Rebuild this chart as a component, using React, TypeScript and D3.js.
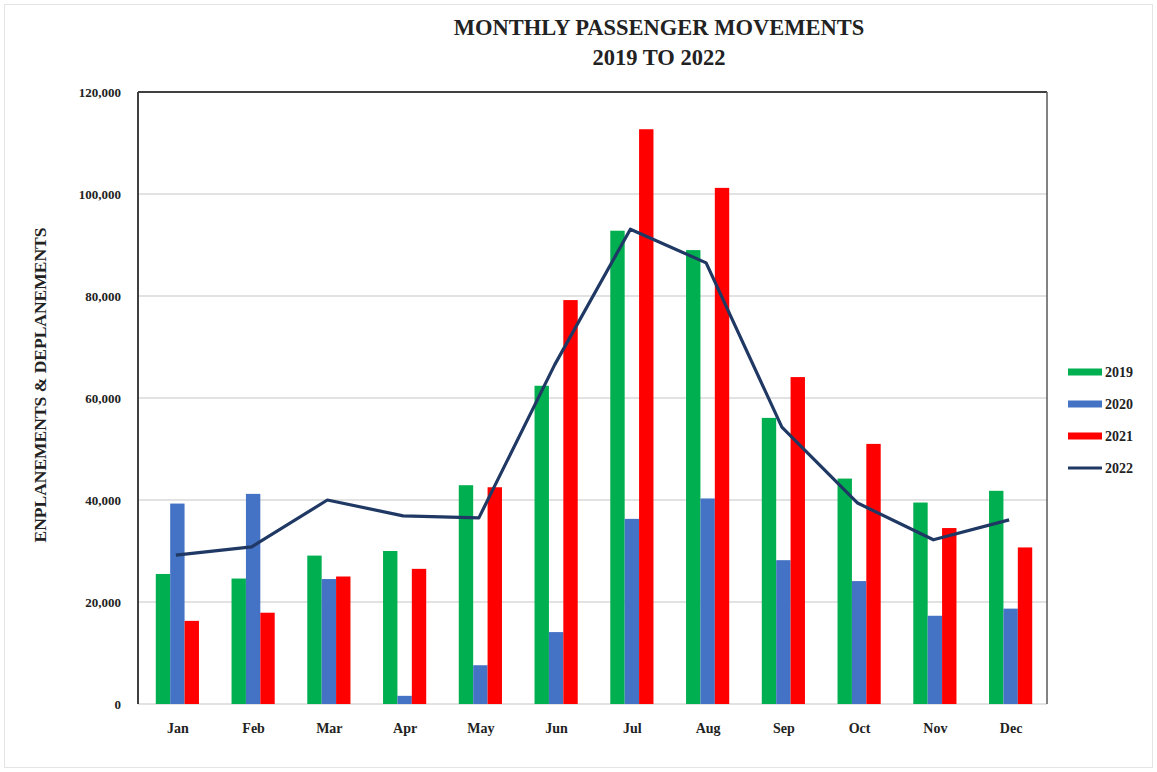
import { useEffect, useRef } from "react";
import * as d3 from "d3";

const months = ["Jan", "Feb", "Mar", "Apr", "May", "Jun", "Jul", "Aug", "Sep", "Oct", "Nov", "Dec"];
const seriesNames = ["2019", "2020", "2021"];
const values2019 = [25500, 24600, 29100, 30000, 42900, 62400, 92800, 89000, 56100, 44200, 39500, 41800];
const values2020 = [39300, 41200, 24500, 1600, 7600, 14100, 36300, 40300, 28200, 24100, 17300, 18700];
const values2021 = [16300, 17900, 25000, 26500, 42500, 79200, 112700, 101200, 64100, 51000, 34500, 30700];
const values2022 = [29200, 30800, 40000, 36900, 36500, 66500, 93100, 86500, 54300, 39400, 32200, 36100];
const yTicks = [0, 20000, 40000, 60000, 80000, 100000, 120000];
const colors = ["#00b050", "#4472c4", "#ff0000"];
const lineColor = "#1f3864";

const W = 1157;
const H = 772;
const FONT = "'Liberation Serif', 'DejaVu Serif', serif";

const App = () => {
    const chartRef = useRef<SVGSVGElement>(null);

    useEffect(() => {
        const svg = d3.select(chartRef.current);
        svg.selectAll("*").remove();

        const margin = { top: 92, right: 110, bottom: 68, left: 138 };
        const innerW = W - margin.left - margin.right;

        // outer chart frame
        svg.append("rect")
            .attr("x", 4.5).attr("y", 4.5)
            .attr("width", W - 9).attr("height", H - 9)
            .attr("fill", "#fff").attr("stroke", "#e4e4e4");

        const x = d3.scaleBand().domain(months).range([margin.left, margin.left + innerW]);
        const y = d3.scaleLinear().domain([0, 120000]).range([H - margin.bottom, margin.top]);
        const groupW = x.bandwidth() * 0.57;
        const xs = d3.scaleBand().domain(seriesNames).range([0, groupW]);

        // gridlines
        svg.append("g")
            .selectAll("line")
            .data(yTicks.slice(0, -1))
            .join("line")
            .attr("x1", margin.left).attr("x2", margin.left + innerW)
            .attr("y1", (d) => y(d)).attr("y2", (d) => y(d))
            .attr("stroke", "#d9d9d9").attr("stroke-width", 1.5);

        // bars
        const table = months.map((m, i) => ({ m, v: [values2019[i], values2020[i], values2021[i]] }));
        svg.append("g")
            .selectAll("g")
            .data(table)
            .join("g")
            .attr("transform", (d) => `translate(${x(d.m)! + (x.bandwidth() - groupW) / 2 + 1.5},0)`)
            .selectAll("rect")
            .data((d) => d.v.map((v, k) => ({ k, v })))
            .join("rect")
            .attr("x", (d) => xs(seriesNames[d.k])!)
            .attr("width", xs.bandwidth())
            .attr("y", (d) => y(d.v))
            .attr("height", (d) => y(0) - y(d.v))
            .attr("fill", (d) => colors[d.k]);

        // 2022 line
        const line = d3.line<number>()
            .x((_, i) => x(months[i])! + x.bandwidth() / 2)
            .y((d) => y(d));
        svg.append("path")
            .attr("d", line(values2022))
            .attr("fill", "none")
            .attr("stroke", lineColor)
            .attr("stroke-width", 3.2)
            .attr("stroke-linejoin", "round");

        // plot frame
        svg.append("line")
            .attr("x1", margin.left).attr("x2", margin.left + innerW)
            .attr("y1", y(120000)).attr("y2", y(120000))
            .attr("stroke", "#404040").attr("stroke-width", 2);
        svg.append("line")
            .attr("x1", margin.left).attr("x2", margin.left)
            .attr("y1", y(120000)).attr("y2", y(0))
            .attr("stroke", "#404040").attr("stroke-width", 2);
        svg.append("line")
            .attr("x1", margin.left + innerW).attr("x2", margin.left + innerW)
            .attr("y1", y(120000)).attr("y2", y(0))
            .attr("stroke", "#595959").attr("stroke-width", 1.5);

        // y axis labels
        svg.append("g")
            .selectAll("text")
            .data(yTicks)
            .join("text")
            .attr("x", margin.left - 17)
            .attr("y", (d) => y(d) + 4.5)
            .attr("text-anchor", "end")
            .attr("font-family", FONT)
            .attr("font-weight", "bold")
            .attr("font-size", 13)
            .attr("fill", "#222")
            .text((d) => d3.format(",")(d));

        // x axis labels
        svg.append("g")
            .selectAll("text")
            .data(months)
            .join("text")
            .attr("x", (d) => x(d)! + x.bandwidth() / 2 + 2)
            .attr("y", y(0) + 29)
            .attr("text-anchor", "middle")
            .attr("font-family", FONT)
            .attr("font-weight", "bold")
            .attr("font-size", 14)
            .attr("fill", "#222")
            .text((d) => d);

        // y axis title
        svg.append("text")
            .attr("transform", `translate(46,385) rotate(-90)`)
            .attr("text-anchor", "middle")
            .attr("font-family", FONT)
            .attr("font-weight", "bold")
            .attr("font-size", 17.5)
            .attr("fill", "#222")
            .text("ENPLANEMENTS & DEPLANEMENTS");

        // title
        const title = svg.append("text")
            .attr("text-anchor", "middle")
            .attr("font-family", FONT)
            .attr("font-weight", "bold")
            .attr("font-size", 22.5)
            .attr("fill", "#222");
        title.append("tspan").attr("x", 659).attr("y", 35).text("MONTHLY PASSENGER MOVEMENTS");
        title.append("tspan").attr("x", 659).attr("y", 65).text("2019 TO 2022");

        // legend
        const legendItems = [...seriesNames, "2022"];
        const lg = svg.append("g")
            .selectAll("g")
            .data(legendItems)
            .join("g")
            .attr("transform", (_, i) => `translate(1068,${372 + i * 32})`);
        lg.append("rect")
            .attr("x", 0)
            .attr("y", (_, i) => (i < 3 ? -3.5 : -1.5))
            .attr("width", 34)
            .attr("height", (_, i) => (i < 3 ? 7 : 3))
            .attr("fill", (_, i) => (i < 3 ? colors[i] : lineColor));
        lg.append("text")
            .attr("x", 37)
            .attr("y", 5)
            .attr("font-family", FONT)
            .attr("font-weight", "bold")
            .attr("font-size", 14)
            .attr("fill", "#222")
            .text((d) => d);
    }, []);

    return (
        <svg
            ref={chartRef}
            width={W}
            height={H}
            style={{ position: "absolute", left: 0, top: 0, display: "block", background: "#fff" }}
        ></svg>
    );
};

export default App;
